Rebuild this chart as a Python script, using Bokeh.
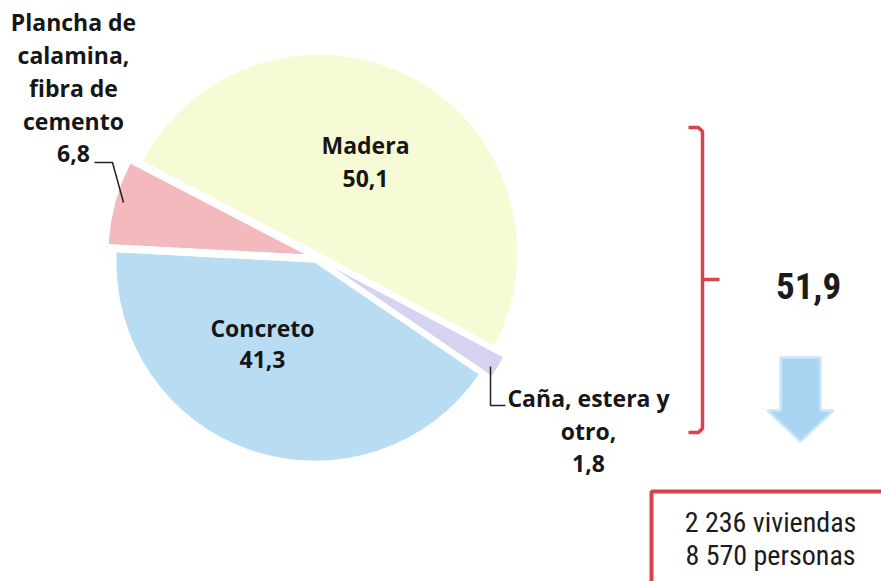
import numpy as np
from bokeh.plotting import figure
from bokeh.models import Range1d
from bokeh.core.properties import value
from bokeh.embed import file_html
from bokeh.resources import INLINE

# ---- data (counter-clockwise order starting at the Caña slice) ----
categories = ["Caña, estera y otro", "Madera", "Plancha de calamina, fibra de cemento", "Concreto"]
percent = [1.8, 50.1, 6.8, 41.3]
percent_labels = ["1,8", "50,1", "6,8", "41,3"]
colors = ["#D6D3F1", "#F7FBD5", "#F3B9BD", "#B8DDF3"]
explode_px = [13, 5, 10, 5]
start_deg = -34.3

bracket_total = "51,9"
box_lines = ["2 236 viviendas", "8 570 personas"]

W, H = 881, 581


def X(px):
    return px


def Y(py):
    return H - py


p = figure(width=W, height=H, x_range=Range1d(0, W), y_range=Range1d(0, H),
           output_backend="svg", toolbar_location=None, min_border=0)
p.axis.visible = False
p.grid.visible = False
p.outline_line_color = None
p.background_fill_color = "white"
p.border_fill_color = "white"

# ---- pie ----
cx, cy, R = X(316), Y(257), 199
vals = np.array(percent)
angles = vals / vals.sum() * 2 * np.pi
starts = np.deg2rad(start_deg) + np.concatenate([[0], np.cumsum(angles)[:-1]])
ends = starts + angles
mids = (starts + ends) / 2
xs = cx + np.array(explode_px) * np.cos(mids)
ys = cy + np.array(explode_px) * np.sin(mids)
p.wedge(x=xs, y=ys, radius=R, start_angle=starts, end_angle=ends,
        fill_color=colors, line_color="white", line_width=1)

lab_font = value("Open Sans")
lab_col = "#161616"


def lines(text_list, x, y0, dy, size="23px", font=lab_font, style="bold", color=lab_col):
    p.text(x=[x] * len(text_list), y=[y0 - i * dy for i in range(len(text_list))],
           text=text_list, text_font=font, text_font_size=size, text_font_style=style,
           text_color=color, text_align="center", text_baseline="middle")


# Madera
lines([categories[1], percent_labels[1]], X(365), Y(144), 34)
# Concreto
lines([categories[3], percent_labels[3]], X(262), Y(327), 32)
# Plancha
lines(["Plancha de", "calamina,", "fibra de", "cemento", percent_labels[2]], X(73), Y(21), 33)
# Caña
lines(["Caña, estera y", "otro,", percent_labels[0]], X(588), Y(397), 33)

# leader lines
p.line([X(94), X(112), X(123)], [Y(162), Y(162), Y(202)], line_color="#222222", line_width=1.5)
p.line([X(490), X(490), X(505)], [Y(366), Y(405), Y(405)], line_color="#222222", line_width=1.5)

# ---- bracket ----
red = "#D9434D"
bx = X(702)
p.line([X(688), bx - 4, bx, bx, bx - 4, X(688)],
       [Y(127), Y(127), Y(131), Y(428), Y(432), Y(432)], line_color=red, line_width=3.5,
       line_join="round")
p.line([bx, X(719)], [Y(279), Y(279)], line_color=red, line_width=3.5)

cond = value("Roboto Condensed")
p.text(x=[X(808)], y=[Y(285)], text=[bracket_total], text_font=cond,
       text_font_size="37px", text_font_style="bold", text_color="#1b1b1b",
       text_align="center", text_baseline="middle")

# ---- arrow ----
ax = X(800)
arr_x = [ax - 20, ax + 20, ax + 20, ax + 33, ax, ax - 33, ax - 20]
arr_y = [Y(357), Y(357), Y(410), Y(410), Y(441), Y(410), Y(410)]
p.patch(arr_x, arr_y, fill_color="#A9D4F2", line_color="#C9E4F7", line_width=3, line_alpha=0.8)

# ---- box ----
p.quad(left=X(651), right=X(900), top=Y(491), bottom=Y(600), fill_color="white",
       line_color=red, line_width=4)
lines(box_lines, X(770), Y(522), 33, size="28px", font=cond,
      style="normal", color="#1b1b1b")

open("out.html", "w").write(file_html(p, INLINE))
